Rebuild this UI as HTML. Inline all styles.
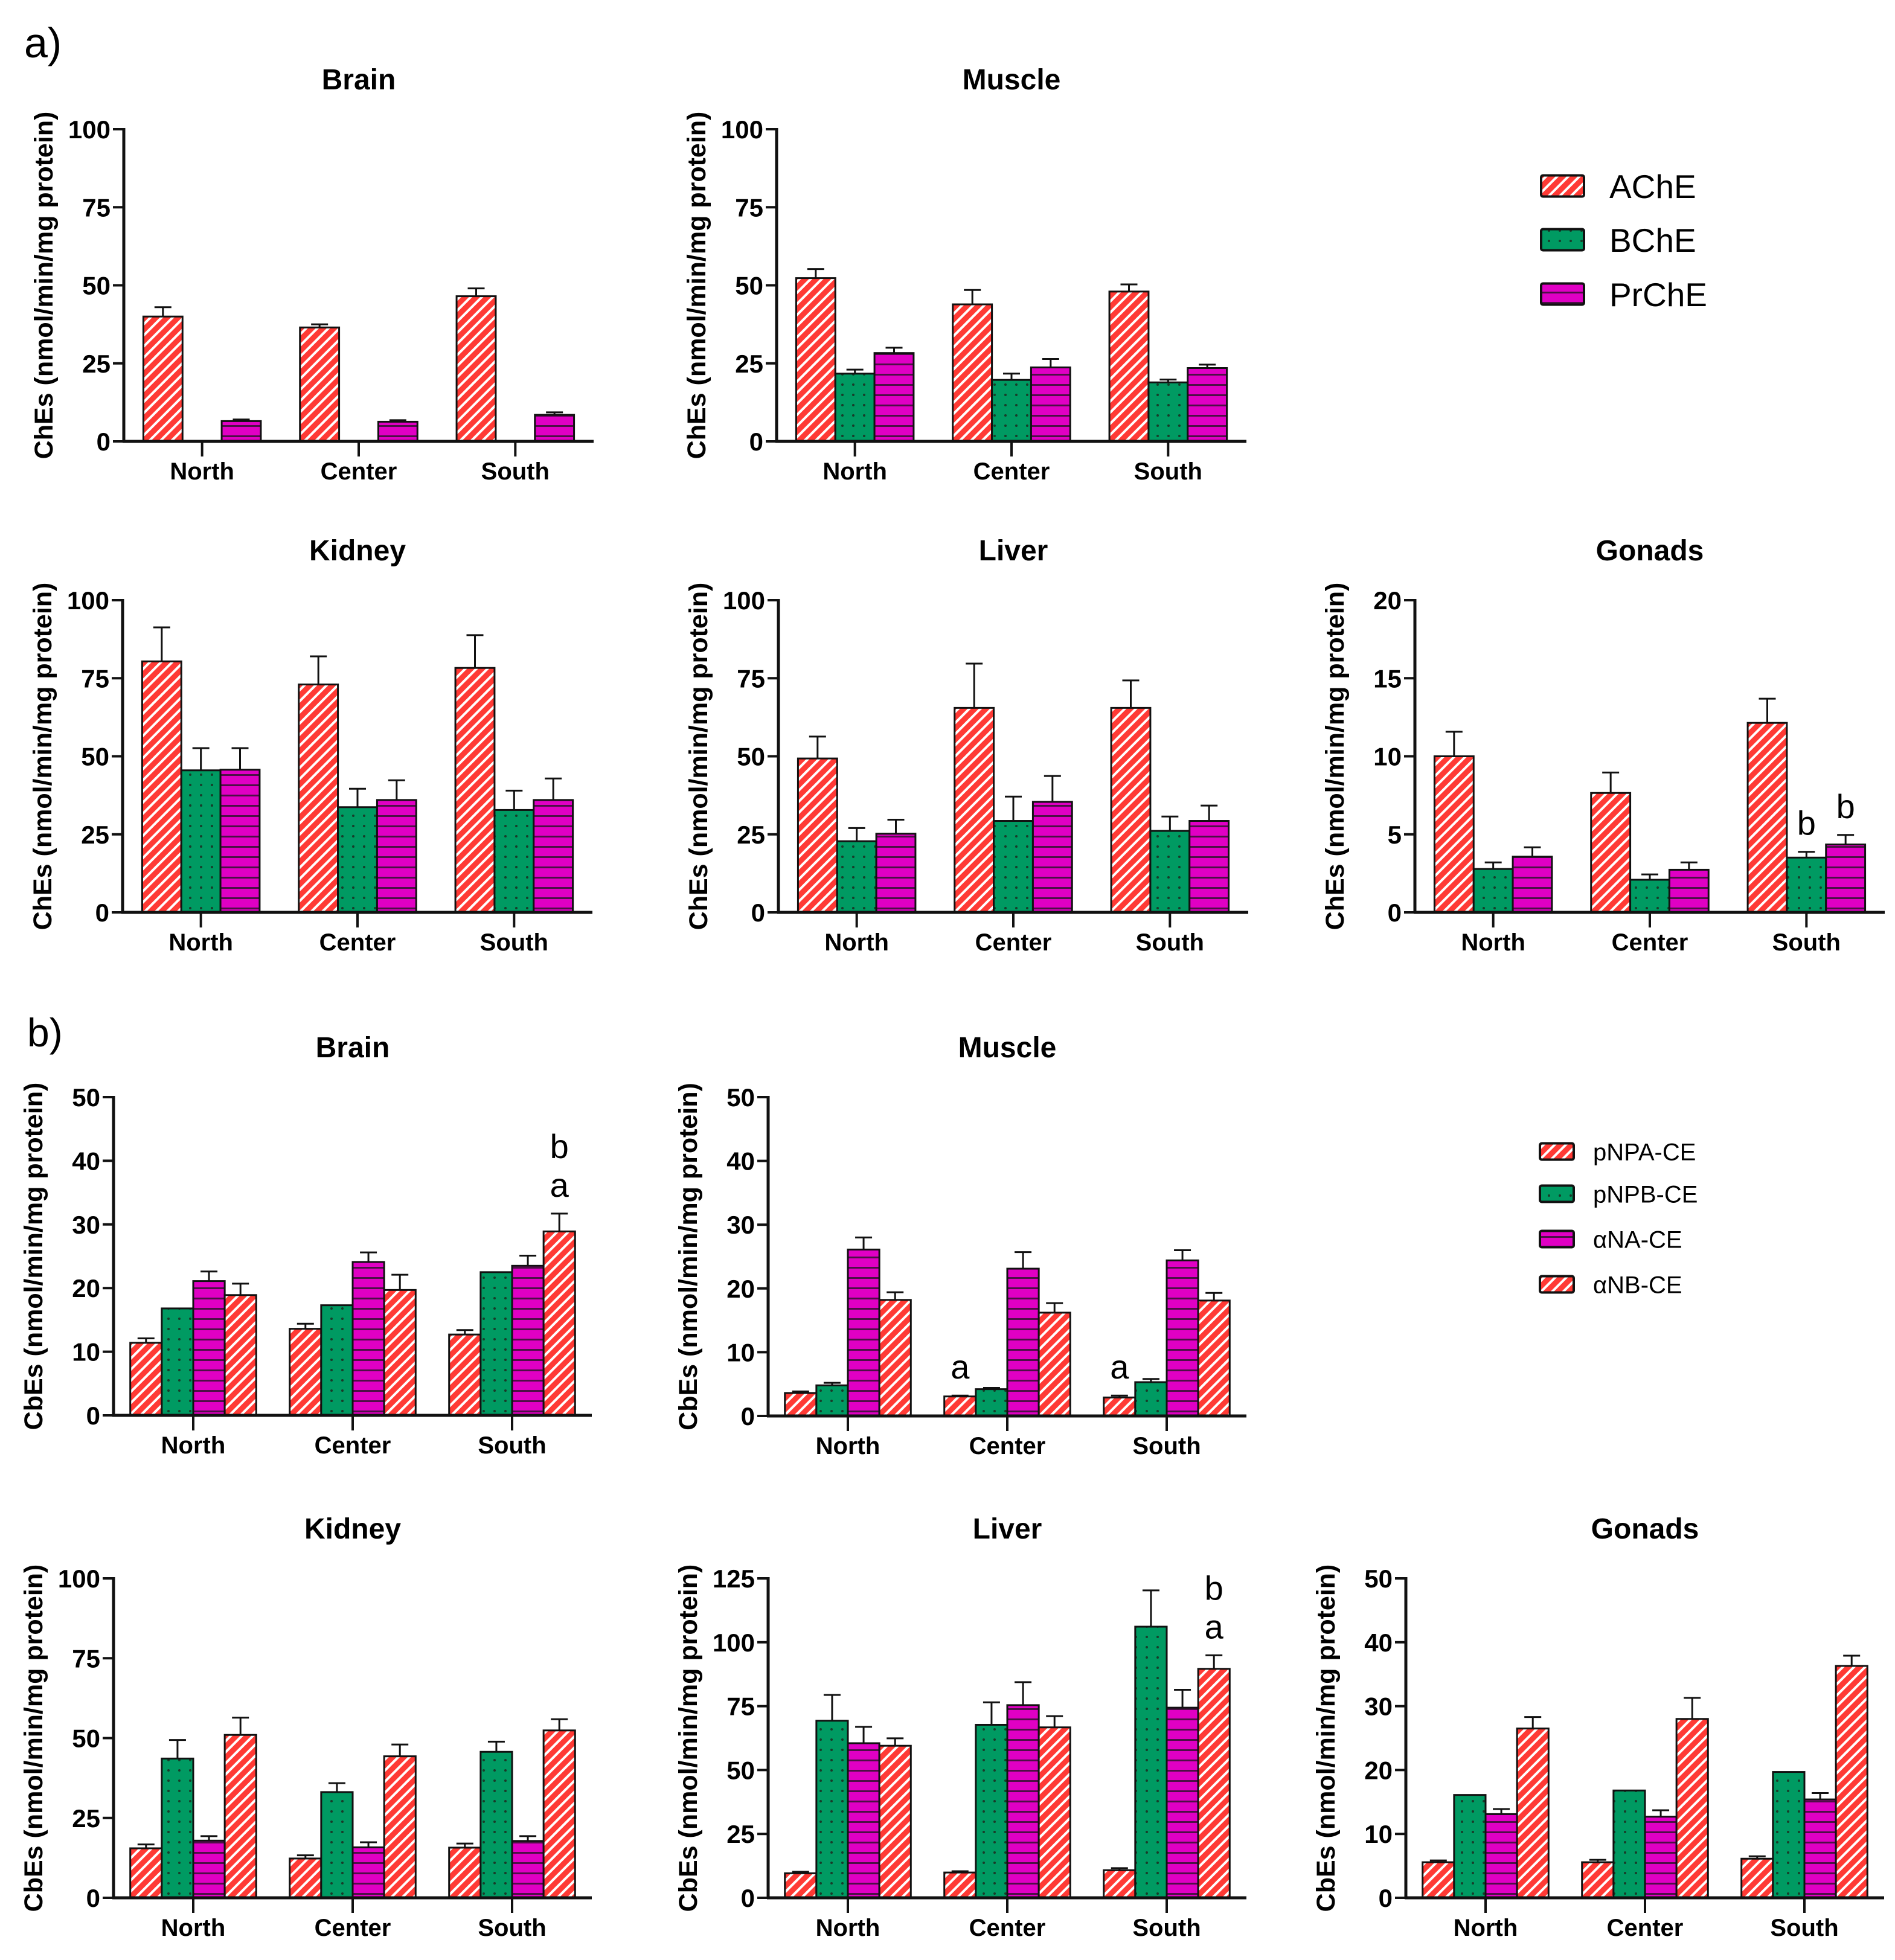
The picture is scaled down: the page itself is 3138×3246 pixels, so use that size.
<!DOCTYPE html>
<html><head><meta charset="utf-8"><style>
html,body{margin:0;padding:0;background:#fff}
svg{display:block}
text{font-family:"Liberation Sans",Arial,sans-serif}
</style></head><body>
<svg id="fig" width="3138" height="3246" viewBox="0 0 3138 3246" xmlns="http://www.w3.org/2000/svg">
<defs>
<pattern id="pRed" patternUnits="userSpaceOnUse" width="13" height="13" patternTransform="rotate(45)">
<rect width="13" height="13" fill="#ff3a35"/><rect x="0" y="0" width="4" height="13" fill="#ffffff"/></pattern>
<pattern id="pGreen" patternUnits="userSpaceOnUse" width="18" height="17">
<rect width="18" height="17" fill="#009a62"/><circle cx="9" cy="8" r="2" fill="#173d2a"/></pattern>
<pattern id="pMag" patternUnits="userSpaceOnUse" width="20" height="17">
<rect width="20" height="17" fill="#e000c4"/><rect y="7" width="20" height="3" fill="#4d1046"/></pattern>
</defs>
<text x="40" y="95" font-size="70">a)</text>
<text x="45" y="1733" font-size="66">b)</text>
</svg>
<script>
const categories = ["North","Center","South"];
const aSeries = ["AChE","BChE","PrChE"];
const bSeries = ["pNPA-CE","pNPB-CE","αNA-CE","αNB-CE"];
const aFills = ["url(#pRed)","url(#pGreen)","url(#pMag)"];
const bFills = ["url(#pRed)","url(#pGreen)","url(#pMag)","url(#pRed)"];

const aBrainVals = [[40,36.5,46.5],[null,null,null],[6.5,6.3,8.5]];
const aBrainErr = [[43,37.5,49],[null,null,null],[7,6.8,9.3]];
const aMuscleVals = [[52.3,43.9,48],[21.7,19.7,18.9],[28.3,23.7,23.5]];
const aMuscleErr = [[55.2,48.5,50.3],[23,21.7,19.8],[30,26.4,24.6]];
const aKidneyVals = [[80.4,73,78.3],[45.5,33.7,32.8],[45.7,36,36]];
const aKidneyErr = [[91.3,82,88.8],[52.6,39.6,39],[52.6,42.3,42.9]];
const aLiverVals = [[49.3,65.5,65.5],[22.8,29.3,26.1],[25.2,35.4,29.3]];
const aLiverErr = [[56.3,79.7,74.3],[27,37.1,30.7],[29.7,43.7,34.2]];
const aGonadsVals = [[10,7.65,12.14],[2.78,2.09,3.51],[3.57,2.73,4.35]];
const aGonadsErr = [[11.57,8.96,13.69],[3.2,2.43,3.88],[4.17,3.2,4.96]];

const bBrainVals = [[11.4,13.6,12.7],[16.8,17.3,22.5],[21.1,24.1,23.5],[18.9,19.7,28.9]];
const bBrainErr = [[12.1,14.4,13.4],[null,null,null],[22.6,25.6,25.1],[20.7,22.1,31.7]];
const bMuscleVals = [[3.6,3.06,2.9],[4.8,4.2,5.3],[26.1,23.1,24.4],[18.2,16.2,18.1]];
const bMuscleErr = [[3.85,3.2,3.2],[5.2,4.4,5.8],[28,25.7,26],[19.4,17.7,19.3]];
const bKidneyVals = [[15.5,12.3,15.7],[43.6,33.1,45.7],[17.9,15.8,17.8],[51,44.3,52.4]];
const bKidneyErr = [[16.7,13.3,17],[49.4,35.9,48.9],[19.3,17.4,19.3],[56.4,48,55.9]];
const bLiverVals = [[9.6,9.9,10.8],[69.3,67.7,106.1],[60.5,75.4,74.4],[59.5,66.7,89.6]];
const bLiverErr = [[10.2,10.4,11.6],[79.4,76.5,120.3],[66.9,84.4,81.4],[62.4,71.1,94.9]];
const bGonadsVals = [[5.57,5.57,6.12],[16.1,16.8,19.7],[13.1,12.7,15.4],[26.5,28,36.3]];
const bGonadsErr = [[5.85,5.94,6.5],[null,null,null],[13.9,13.7,16.4],[28.3,31.3,37.9]];

const ticksA100 = [0,25,50,75,100];
const ticksA20 = [0,5,10,15,20];
const ticksB50 = [0,10,20,30,40,50];
const ticksB125 = [0,25,50,75,100,125];

const NS = "http://www.w3.org/2000/svg";
const svg = document.getElementById("fig");
function mk(tag, attrs, parent){
  const e = document.createElementNS(NS, tag);
  for (const k in attrs) e.setAttribute(k, attrs[k]);
  (parent||svg).appendChild(e);
  return e;
}

function panel(cfg){
  const g = mk("g", {});
  
  
  const x0 = cfg.x0, len = cfg.len, top = cfg.top, zero = cfg.zero, max = cfg.max;
  const yS = v => zero - v / max * (zero - top);
  const band = len / 3;
  const nS = cfg.vals.length;
  const groupW = band * cfg.frac;
  const bw = groupW / nS;
  const t = mk("text", {x: x0 + len/2, y: top - 66, "font-size": 48, "font-weight": "bold", "text-anchor": "middle"}, g);
  t.textContent = cfg.title;
  
  
  const yt = mk("text", {x: 0, y: 0, "font-size": 43, "font-weight": "bold", "text-anchor": "middle",
    transform: "translate(" + (x0 - 118) + "," + ((top + zero) / 2) + ") rotate(-90)"}, g);
  yt.textContent = cfg.ylabel;
  
  
  for (let s = 0; s < nS; s++){
    for (let c = 0; c < 3; c++){
      const v = cfg.vals[s][c];
      if (v === null) continue;
      const bx = x0 + band * c + band/2 - groupW/2 + s * bw;
      const e = cfg.errs[s][c];
      if (e !== null && e > v){
        const cx = bx + bw/2;
        const el = mk("line", {x1: cx, x2: cx, y1: yS(v), y2: yS(e), stroke: "#111", "stroke-width": 3}, g);
        
        
        const cap = mk("line", {x1: cx - 14, x2: cx + 14, y1: yS(e), y2: yS(e), stroke: "#111", "stroke-width": 3}, g);
        
        
      }
      const r = mk("rect", {x: bx, y: yS(v), width: bw, height: zero - yS(v), fill: cfg.fills[s], stroke: "#111", "stroke-width": 3}, g);
      
      
    }
  }
  (cfg.notes || []).forEach(n => {
    const bx = x0 + band * n.c + band/2 - groupW/2 + n.s * bw + bw/2;
    const base = yS(cfg.errs[n.s][n.c]) - 28;
    n.t.forEach((txt, i) => {
      const a = mk("text", {x: bx, y: base - i * 64, "font-size": 56, "text-anchor": "middle"}, g);
      a.textContent = txt;
      
      
    });
  });
  const ya = mk("line", {x1: x0, x2: x0, y1: top - 2, y2: zero, stroke: "#111", "stroke-width": 5}, g);
  
  
  const xa = mk("line", {x1: x0 - 2, x2: x0 + len, y1: zero, y2: zero, stroke: "#111", "stroke-width": 5}, g);
  
  
  cfg.ticks.forEach(tv => {
    const y = yS(tv);
    const tl = mk("line", {x1: x0 - 18, x2: x0, y1: y, y2: y, stroke: "#111", "stroke-width": 4}, g);
    
    
    const tx = mk("text", {x: x0 - 22, y: y + 15, "font-size": 42, "font-weight": "bold", "text-anchor": "end"}, g);
    tx.textContent = tv;
    
    
  });
  categories.forEach((cat, c) => {
    const cx = x0 + band * c + band/2;
    const tl = mk("line", {x1: cx, x2: cx, y1: zero, y2: zero + 25, stroke: "#111", "stroke-width": 4}, g);
    
    
    const tx = mk("text", {x: cx, y: zero + 63, "font-size": 40, "font-weight": "bold", "text-anchor": "middle"}, g);
    tx.textContent = cat;
    
    
  });
}

const A = {series: aSeries, fills: aFills, frac: 0.75, ylabel: "ChEs (nmol/min/mg protein)", len: 778};
const B = {series: bSeries, fills: bFills, frac: 0.79, ylabel: "CbEs (nmol/min/mg protein)", len: 792};

panel(Object.assign({}, A, {id: "a-brain-chart", title: "Brain", x0: 205, top: 214, zero: 731, max: 100, ticks: ticksA100, vals: aBrainVals, errs: aBrainErr}));
panel(Object.assign({}, A, {id: "a-muscle-chart", title: "Muscle", x0: 1286, top: 214, zero: 731, max: 100, ticks: ticksA100, vals: aMuscleVals, errs: aMuscleErr}));
panel(Object.assign({}, A, {id: "a-kidney-chart", title: "Kidney", x0: 203, top: 994, zero: 1511, max: 100, ticks: ticksA100, vals: aKidneyVals, errs: aKidneyErr}));
panel(Object.assign({}, A, {id: "a-liver-chart", title: "Liver", x0: 1289, top: 994, zero: 1511, max: 100, ticks: ticksA100, vals: aLiverVals, errs: aLiverErr}));
panel(Object.assign({}, A, {id: "a-gonads-chart", title: "Gonads", x0: 2343, top: 994, zero: 1511, max: 20, ticks: ticksA20, vals: aGonadsVals, errs: aGonadsErr,
  notes: [{s:1,c:2,t:["b"]},{s:2,c:2,t:["b"]}]}));

panel(Object.assign({}, B, {id: "b-brain-chart", title: "Brain", x0: 188, top: 1817, zero: 2344, max: 50, ticks: ticksB50, vals: bBrainVals, errs: bBrainErr,
  notes: [{s:3,c:2,t:["a","b"]}]}));
panel(Object.assign({}, B, {id: "b-muscle-chart", title: "Muscle", x0: 1272, top: 1817, zero: 2345, max: 50, ticks: ticksB50, vals: bMuscleVals, errs: bMuscleErr,
  notes: [{s:0,c:1,t:["a"]},{s:0,c:2,t:["a"]}]}));
panel(Object.assign({}, B, {id: "b-kidney-chart", title: "Kidney", x0: 188, top: 2614, zero: 3143, max: 100, ticks: ticksA100, vals: bKidneyVals, errs: bKidneyErr}));
panel(Object.assign({}, B, {id: "b-liver-chart", title: "Liver", x0: 1272, top: 2614, zero: 3143, max: 125, ticks: ticksB125, vals: bLiverVals, errs: bLiverErr,
  notes: [{s:3,c:2,t:["a","b"]}]}));
panel(Object.assign({}, B, {id: "b-gonads-chart", title: "Gonads", x0: 2328, top: 2614, zero: 3143, max: 50, ticks: ticksB50, vals: bGonadsVals, errs: bGonadsErr}));

function legend(id, names, fills, x, ys, w, h, tx, fs){
  const g = mk("g", {});
  
  
  names.forEach((n, i) => {
    const r = mk("rect", {x: x, y: ys[i] - h/2, width: w, height: h, rx: 3, fill: fills[i], stroke: "#111", "stroke-width": 4}, g);
    
    
    const t = mk("text", {x: tx, y: ys[i] + fs * 0.36, "font-size": fs}, g);
    t.textContent = n;
    
    
  });
}
legend("legend-a", aSeries, aFills, 2552, [308, 397, 487], 71, 35, 2665, 55);
legend("legend-b", bSeries, bFills, 2550, [1907, 1977, 2052, 2127], 56, 27, 2638, 40);
</script>
</body></html>
